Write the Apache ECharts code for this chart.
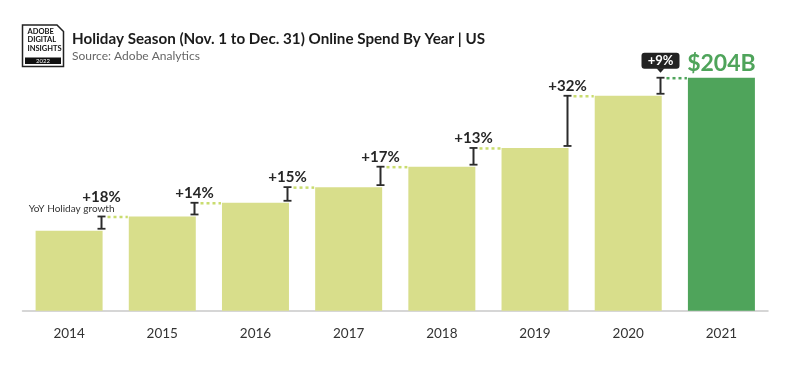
<!DOCTYPE html>
<html>
<head>
<meta charset="utf-8">
<script src="https://cdn.jsdelivr.net/npm/echarts@6/dist/echarts.min.js"></script>
<style>
html,body{margin:0;padding:0;background:#fff;}
#chart{width:800px;height:390px;}
</style>
</head>
<body>
<div id="chart"></div>
<script>
// ---- data ----
const years = ['2014','2015','2016','2017','2018','2019','2020','2021'];
const spend = [70, 82.5, 94.5, 108.2, 126.1, 142.5, 188.2, 204];
const growth = ['+18%','+14%','+15%','+17%','+13%','+32%','+9%'];
const lastLabel = '$204B';
const titleText = 'Holiday Season (Nov. 1 to Dec. 31) Online Spend By Year | US';
const subText = 'Source: Adobe Analytics';
const growthNote = 'YoY Holiday growth';

const FONT = 'Lato, "Open Sans", sans-serif';
const LIGHT = '#d8de8b';
const GREEN = '#4fa45b';
const BARW = 67;

const steps = growth.map((g, i) => [i, spend[i], spend[i + 1], g]);

const chart = echarts.init(document.getElementById('chart'));
chart.setOption({
  animation: false,
  backgroundColor: '#fff',
  title: {
    text: titleText,
    subtext: subText,
    left: 67,
    top: 27,
    itemGap: 3,
    textStyle: {fontFamily: FONT, fontSize: 15.2, fontWeight: 'bold', color: '#1b1b1b'},
    subtextStyle: {fontFamily: FONT, fontSize: 12, color: '#666'}
  },
  grid: {left: 22.5, right: 32, top: 36.6, bottom: 79.3},
  xAxis: {
    type: 'category',
    data: years,
    axisLine: {lineStyle: {color: '#c9c9c9', width: 1.5}},
    axisTick: {show: false},
    axisLabel: {fontFamily: FONT, fontSize: 13.5, color: '#333', margin: 16}
  },
  yAxis: {type: 'value', min: 0, max: 240, show: false, splitLine: {show: false}},
  series: [
    {
      type: 'bar',
      barWidth: BARW,
      data: spend.map((v, i) => ({
        value: v,
        itemStyle: {color: i === spend.length - 1 ? GREEN : LIGHT},
        label: i === spend.length - 1 ? {
          show: true, position: 'top', distance: 3, formatter: lastLabel,
          fontFamily: FONT, fontSize: 23, fontWeight: 'bold', color: GREEN
        } : {show: false}
      }))
    },
    {
      type: 'custom',
      data: steps,
      z: 5,
      renderItem: function (params, api) {
        const i = api.value(0);
        const v0 = api.value(1), v1 = api.value(2);
        const cx = api.coord([i, 0])[0];
        const nx = api.coord([i + 1, 0])[0];
        const x = Math.round(cx + BARW / 2 - 2) + 0.5;
        const yLow = api.coord([i, v0])[1] - 2;
        const yHigh = api.coord([i, v1])[1];
        const last = i === growth.length - 1;
        const dark = '#2b2b2b';
        const children = [
          {type: 'line', shape: {x1: x, y1: yHigh, x2: x, y2: yLow}, style: {stroke: dark, lineWidth: 2}},
          {type: 'line', shape: {x1: x - 4, y1: yHigh, x2: x + 4, y2: yHigh}, style: {stroke: dark, lineWidth: 1.8}},
          {type: 'line', shape: {x1: x - 4, y1: yLow, x2: x + 4, y2: yLow}, style: {stroke: dark, lineWidth: 1.8}},
          {type: 'line', shape: {x1: x + 6, y1: yHigh + 0.5, x2: nx - BARW / 2 - 1, y2: yHigh + 0.5},
            style: {stroke: last ? GREEN : '#c9dc6e', lineWidth: 2.5, lineDash: [3, 3]}}
        ];
        if (last) {
          const bx = x, by = yHigh - 5;
          children.push({type: 'rect', shape: {x: bx - 19, y: by - 20, width: 38, height: 16, r: 3}, style: {fill: '#222'}});
          children.push({type: 'polygon', shape: {points: [[bx - 4, by - 4.5], [bx + 4, by - 4.5], [bx, by]]}, style: {fill: '#222'}});
          children.push({type: 'text', style: {text: api.value(3), x: bx, y: by - 12, align: 'center', verticalAlign: 'middle',
            fill: '#fff', font: 'bold 13px ' + FONT}});
        } else {
          const dy = i === 0 ? 19 : 10;
          children.push({type: 'text', style: {text: api.value(3), x: x, y: yHigh - dy, align: 'center', verticalAlign: 'middle',
            fill: '#262626', font: 'bold 15px ' + FONT}});
        }
        if (i === 0) {
          children.push({type: 'text', style: {text: growthNote, x: x + 13, y: yHigh - 8, align: 'right', verticalAlign: 'middle',
            fill: '#333', font: '10px ' + FONT}});
        }
        return {type: 'group', children: children};
      }
    }
  ],
  graphic: [
    {type: 'polygon', shape: {points: [[22.5, 25], [57, 25], [63.5, 31.5], [63.5, 66.5], [22.5, 66.5]]},
      style: {fill: '#fff', stroke: '#222', lineWidth: 1.5}},
    {type: 'text', left: 27.5, top: 28, style: {text: 'ADOBE', font: 'bold 7.5px ' + FONT, fill: '#111'}},
    {type: 'text', left: 27.5, top: 36, style: {text: 'DIGITAL', font: 'bold 7.5px ' + FONT, fill: '#111'}},
    {type: 'text', left: 27.5, top: 44.5, style: {text: 'INSIGHTS', font: 'bold 7.5px ' + FONT, fill: '#111'}},
    {type: 'rect', shape: {x: 25, y: 57.5, width: 36, height: 6.5}, style: {fill: '#111'}},
    {type: 'text', style: {text: '2022', x: 43, y: 60.8, align: 'center', verticalAlign: 'middle', font: '6px ' + FONT, fill: '#fff'}}
  ]
});
</script>
</body>
</html>
